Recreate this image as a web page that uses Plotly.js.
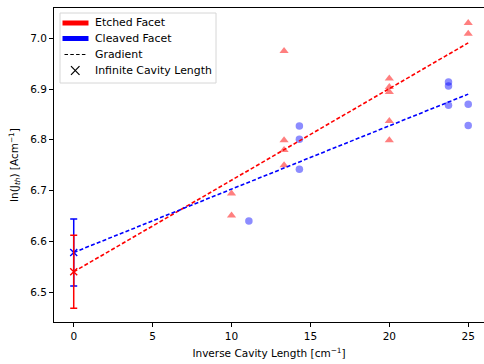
<!DOCTYPE html>
<html>
<head>
<meta charset="utf-8">
<script src="https://cdn.plot.ly/plotly-3.0.1.min.js"></script>
<style>html,body{margin:0;padding:0;background:#fff;}#chart{width:484px;height:364px;}</style>
</head>
<body>
<div id="chart"></div>
<script>
// Etched facet measurements
var etchedX = [10, 10, 13.33, 13.33, 13.33, 13.33, 20, 20, 20, 20, 20, 25, 25];
var etchedY = [6.694, 6.651, 6.975, 6.799, 6.780, 6.750, 6.921, 6.904, 6.894, 6.837, 6.799, 7.030, 7.009];
// Cleaved facet measurements
var cleavedX = [11.1, 14.3, 14.3, 14.3, 23.75, 23.75, 23.75, 25, 25];
var cleavedY = [6.640, 6.827, 6.801, 6.742, 6.914, 6.906, 6.868, 6.870, 6.828];
// Gradient (fit) line endpoints
var fitX = [0, 25];
var etchedFitY = [6.540, 6.991];
var cleavedFitY = [6.578, 6.890];
// Infinite cavity length intercepts with error bars
var infX = [0];
var etchedInfY = [6.540], etchedErrPlus = [0.072], etchedErrMinus = [0.072];
var cleavedInfY = [6.578], cleavedErrPlus = [0.066], cleavedErrMinus = [0.066];
// Ticks
var xTicks = [0, 5, 10, 15, 20, 25];
var yTicks = [6.5, 6.6, 6.7, 6.8, 6.9, 7.0];
var yTickText = ['6.5', '6.6', '6.7', '6.8', '6.9', '7.0'];
// Legend labels
var legendLabels = ['Etched Facet', 'Cleaved Facet', 'Gradient', 'Infinite Cavity Length'];

var traces = [
  {x: etchedX, y: etchedY, mode: 'markers', type: 'scatter',
   marker: {symbol: 'triangle-up', size: 8, color: 'rgba(255,0,0,0.5)', line: {width: 0}}},
  {x: cleavedX, y: cleavedY, mode: 'markers', type: 'scatter',
   marker: {symbol: 'circle', size: 7.5, color: 'rgba(0,0,255,0.45)', line: {width: 0}}},
  {x: fitX, y: etchedFitY, mode: 'lines', type: 'scatter',
   line: {color: 'red', width: 1.6, dash: '4px,2.2px'}},
  {x: fitX, y: cleavedFitY, mode: 'lines', type: 'scatter',
   line: {color: 'blue', width: 1.6, dash: '4px,2.2px'}},
  {x: infX, y: cleavedInfY, mode: 'markers', type: 'scatter',
   marker: {symbol: 'x-thin', size: 7, color: 'blue', line: {color: 'blue', width: 1.4}},
   error_y: {type: 'data', symmetric: false, array: cleavedErrPlus, arrayminus: cleavedErrMinus,
             color: 'blue', thickness: 1.5, width: 3.5}},
  {x: infX, y: etchedInfY, mode: 'markers', type: 'scatter',
   marker: {symbol: 'x-thin', size: 7, color: 'red', line: {color: 'red', width: 1.4}},
   error_y: {type: 'data', symmetric: false, array: etchedErrPlus, arrayminus: etchedErrMinus,
             color: 'red', thickness: 1.5, width: 3.5}}
];

// Manual legend (pixel helpers -> paper coords)
var L = 54, R = 484, T = 8, B = 322;
function px(v) { return (v - L) / (R - L); }
function py(v) { return (B - v) / (B - T); }
var rowY = [23, 38.5, 54.5, 70.5];
var shapes = [
  {type: 'rect', xref: 'paper', yref: 'paper', x0: px(60), x1: px(216), y0: py(83), y1: py(13),
   line: {color: '#d6d6d6', width: 1}, fillcolor: 'rgba(255,255,255,0.8)', layer: 'above'},
  {type: 'line', xref: 'paper', yref: 'paper', x0: px(62.5), x1: px(88.5), y0: py(rowY[0]), y1: py(rowY[0]),
   line: {color: 'red', width: 5}, layer: 'above'},
  {type: 'line', xref: 'paper', yref: 'paper', x0: px(62.5), x1: px(88.5), y0: py(rowY[1]), y1: py(rowY[1]),
   line: {color: 'blue', width: 5}, layer: 'above'},
  {type: 'line', xref: 'paper', yref: 'paper', x0: px(64.5), x1: px(86.5), y0: py(rowY[2]), y1: py(rowY[2]),
   line: {color: 'black', width: 1.2, dash: '3.5px,2.3px'}, layer: 'above'},
  {type: 'line', xref: 'paper', yref: 'paper', x0: px(71), x1: px(79.5), y0: py(rowY[3] - 4.3), y1: py(rowY[3] + 4.3),
   line: {color: 'black', width: 1.2}, layer: 'above'},
  {type: 'line', xref: 'paper', yref: 'paper', x0: px(71), x1: px(79.5), y0: py(rowY[3] + 4.3), y1: py(rowY[3] - 4.3),
   line: {color: 'black', width: 1.2}, layer: 'above'}
];
var font = {family: 'DejaVu Sans', size: 10.5, color: '#000'};
var legendFont = {family: 'DejaVu Sans', size: 10.9, color: '#000'};
var annotations = legendLabels.map(function (t, i) {
  return {text: t, xref: 'paper', yref: 'paper', x: px(93.5), y: py(rowY[i]), xanchor: 'left', yanchor: 'middle',
          showarrow: false, font: legendFont, borderpad: 0};
});

var layout = {
  width: 484, height: 364,
  margin: {l: 54, r: 0, t: 8, b: 42},
  paper_bgcolor: '#fff', plot_bgcolor: '#fff',
  font: font,
  showlegend: false,
  shapes: shapes,
  annotations: annotations,
  xaxis: {range: [-1.25, 26.0], tickvals: xTicks, ticks: 'outside', ticklen: 4, tickwidth: 1,
          tickcolor: '#000', showline: true, linecolor: '#000', linewidth: 1, mirror: true,
          showgrid: false, zeroline: false, tickfont: font,
          title: {text: 'Inverse Cavity Length [cm<sup>−1</sup>]', font: font, standoff: 9}},
  yaxis: {range: [6.441, 7.0597], tickvals: yTicks, ticktext: yTickText, ticks: 'outside', ticklen: 4,
          tickwidth: 1, tickcolor: '#000', showline: true, linecolor: '#000', linewidth: 1, mirror: false,
          showgrid: false, zeroline: false, tickfont: font,
          title: {text: 'ln(J<sub><i>th</i></sub>) [Acm<sup>−1</sup>]', font: font, standoff: 9}}
};

Plotly.newPlot('chart', traces, layout, {staticPlot: true, displayModeBar: false});
</script>
</body>
</html>
